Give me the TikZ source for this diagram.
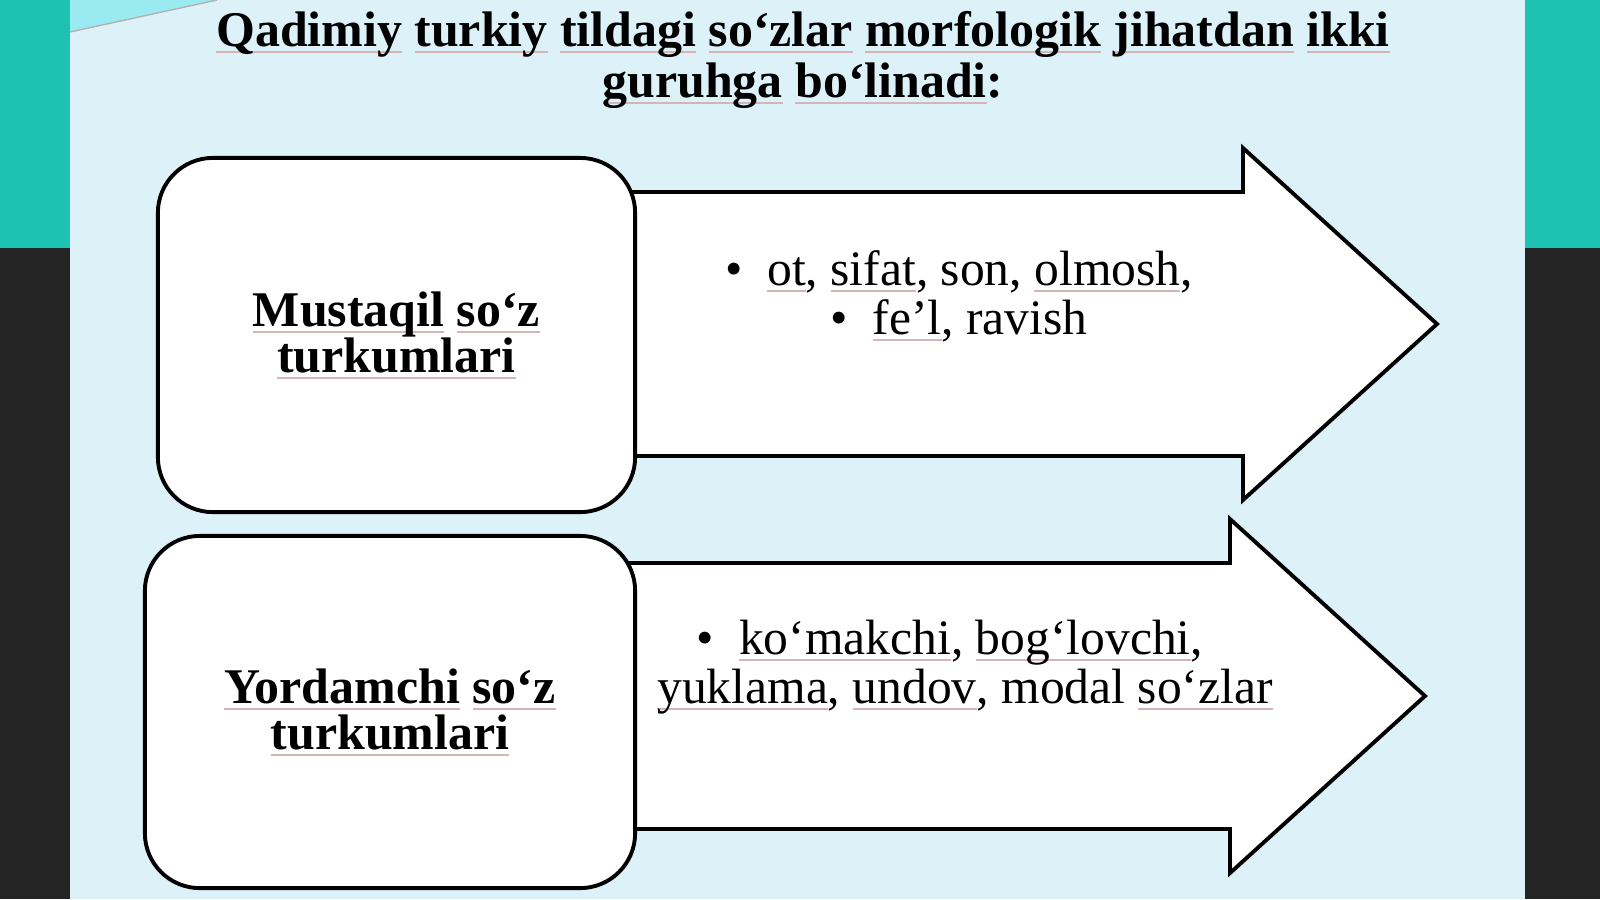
\documentclass[tikz,border=0pt]{standalone}
\usepackage{fontspec}
\setmainfont{Liberation Serif}
\usetikzlibrary{positioning}
\definecolor{panelblue}{HTML}{DCF2F8}
\definecolor{stripteal}{HTML}{1DC2B2}
\definecolor{stripdark}{HTML}{242424}
\definecolor{wedgecyan}{HTML}{9AEBF1}
\definecolor{spellline}{HTML}{D4B4B4}
\newsavebox\splbox
\newcommand\spl[1]{\sbox\splbox{#1}\rlap{\textcolor{spellline}{\rule[-0.13em]{\wd\splbox}{0.55pt}}}\usebox\splbox}
\tikzset{
  catbox/.style={draw, line width=1.1pt, fill=white, rounded corners=0.55cm,
    inner sep=0pt, align=center, font=\bfseries\fontsize{14.2pt}{13.1pt}\selectfont},
  arrowbody/.style={draw, line width=1.1pt, fill=white, line join=miter},
  itemtext/.style={align=center, inner sep=0pt, font=\fontsize{14.1pt}{13.9pt}\selectfont},
  headtext/.style={align=center, inner sep=0pt, font=\bfseries\fontsize{14.2pt}{14.5pt}\selectfont}
}
\begin{document}
\begin{tikzpicture}[x=0.01cm,y=-0.01cm]
  \useasboundingbox (0,0) rectangle (1600,899);
  % slide background
  \fill[panelblue] (70,0) rectangle (1525,899);
  \fill[stripteal] (0,0) rectangle (70,248);
  \fill[stripdark] (0,248) rectangle (70,899);
  \fill[stripteal] (1525,0) rectangle (1600,248);
  \fill[stripdark] (1525,248) rectangle (1600,899);
  \fill[wedgecyan] (70,0) -- (70,32) -- (217,0) -- cycle;
  \draw[gray!60, line width=0.4pt] (70,32) -- (217,0);

  \node[headtext] (title) at (803,60)
    {\spl{Qadimiy} \spl{turkiy} \spl{tildagi} \spl{so‘zlar} \spl{morfologik} \spl{jihatdan} \spl{ikki}\\
     \spl{guruhga} \spl{bo‘linadi}:};

  % arrows behind the boxes
  \draw[arrowbody] (500,192) -- (1243,192) -- (1243,148) -- (1437,324)
    -- (1243,500) -- (1243,456) -- (500,456) -- cycle;
  \draw[arrowbody] (500,563) -- (1230,563) -- (1230,519) -- (1425,696)
    -- (1230,873) -- (1230,829) -- (500,829) -- cycle;

  \node[catbox, minimum width=4.77cm, minimum height=3.54cm] (mustaqil) at (396.5,335)
    {\spl{Mustaqil} \spl{so‘z}\\ \spl{turkumlari}};
  \node[catbox, minimum width=4.90cm, minimum height=3.52cm] (yordamchi) at (390,712)
    {\spl{Yordamchi} \spl{so‘z}\\ \spl{turkumlari}};

  \node[itemtext] (mustaqilitems) at (959,296)
    {\textbullet\ \ \spl{ot}, \spl{sifat}, son, \spl{olmosh},\\
     \textbullet\ \ \spl{fe’l}, ravish};
  \node[itemtext] (yordamchiitems) at (965,667)
    {\textbullet\ \ \spl{ko‘makchi}, \spl{bog‘lovchi},\hspace*{0.3cm}\\
     \spl{yuklama}, \spl{undov}, modal \spl{so‘zlar}};
\end{tikzpicture}
\end{document}
